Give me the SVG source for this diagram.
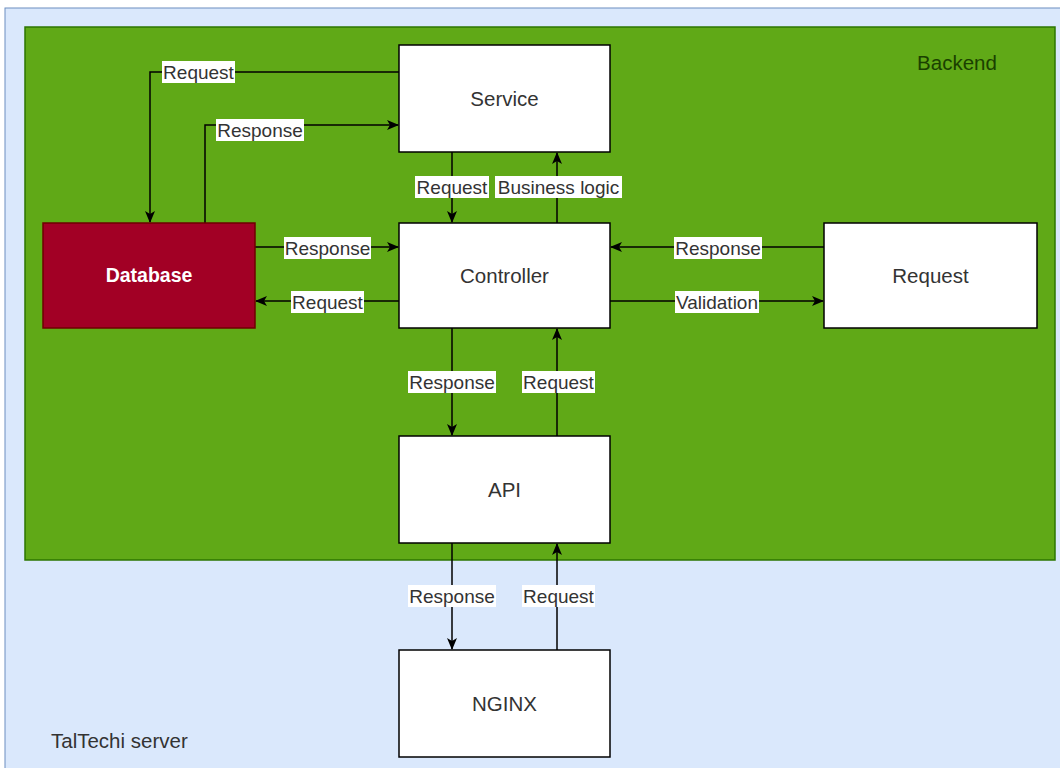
<svg xmlns="http://www.w3.org/2000/svg" width="1060" height="768" viewBox="0 0 1060 768">
<defs>
<marker id="a" viewBox="0 0 12 12" refX="11" refY="6" markerWidth="12" markerHeight="12" markerUnits="userSpaceOnUse" orient="auto">
<path d="M0,1 L12,6 L0,11 L3,6 Z" fill="#000"/>
</marker>
</defs>
<style>
.box{fill:#ffffff;stroke:#000;stroke-width:1.5}
.t{font-family:"Liberation Sans",Arial,sans-serif;font-size:20.5px;fill:#333;text-anchor:middle;dominant-baseline:central}
.lbl{font-family:"Liberation Sans",Arial,sans-serif;font-size:19px;fill:#333;text-anchor:middle;dominant-baseline:central}
.lb{fill:#ffffff}
.c{fill:none;stroke:#000;stroke-width:1.5;marker-end:url(#a)}
</style>
<rect width="1060" height="768" fill="#ffffff"/>
<g id="taltechi-server">
<rect x="5" y="8" width="1060" height="770" fill="#dae8fc" stroke="#6c8ebf" stroke-width="1"/>
<text x="51" y="740" class="t" style="text-anchor:start">TalTechi server</text>
</g>
<g id="backend">
<rect x="25" y="27" width="1030" height="533" fill="#60a917" stroke="#2d7600" stroke-width="1.5"/>
<text x="957" y="62" class="t" style="fill:#1a4000">Backend</text>
</g>
<g id="connectors">
<path class="c" d="M399,72 L150,72 L150,222"/>
<path class="c" d="M205,223 L205,125 L398,125"/>
<path class="c" d="M452,152 L452,222"/>
<path class="c" d="M557,223 L557,153"/>
<path class="c" d="M255,247 L398,247"/>
<path class="c" d="M399,301 L256,301"/>
<path class="c" d="M824,247 L611,247"/>
<path class="c" d="M610,301 L823,301"/>
<path class="c" d="M452,328 L452,435"/>
<path class="c" d="M557,436 L557,329"/>
<path class="c" d="M452,543 L452,649"/>
<path class="c" d="M557,650 L557,544"/>
<g id="labels">
<rect class="lb" x="162" y="61" width="73" height="22"/><text class="lbl" x="198.5" y="72">Request</text>
<rect class="lb" x="216" y="119" width="88" height="22"/><text class="lbl" x="260" y="130">Response</text>
<rect class="lb" x="415" y="176" width="74" height="22"/><text class="lbl" x="452" y="187">Request</text>
<rect class="lb" x="495" y="176" width="127" height="22"/><text class="lbl" x="558.5" y="187">Business logic</text>
<rect class="lb" x="284" y="237" width="87" height="22"/><text class="lbl" x="327.5" y="248">Response</text>
<rect class="lb" x="291" y="291" width="73" height="22"/><text class="lbl" x="327.5" y="302">Request</text>
<rect class="lb" x="674" y="237" width="88" height="22"/><text class="lbl" x="718" y="248">Response</text>
<rect class="lb" x="675" y="291" width="84" height="22"/><text class="lbl" x="717" y="302">Validation</text>
<rect class="lb" x="408" y="371" width="88" height="22"/><text class="lbl" x="452" y="382">Response</text>
<rect class="lb" x="522" y="371" width="73" height="22"/><text class="lbl" x="558.5" y="382">Request</text>
<rect class="lb" x="408" y="585" width="88" height="22"/><text class="lbl" x="452" y="596">Response</text>
<rect class="lb" x="522" y="585" width="73" height="22"/><text class="lbl" x="558.5" y="596">Request</text>
</g>
</g>
<g id="service"><rect class="box" x="399" y="45" width="211" height="107"/><text class="t" x="504.5" y="98">Service</text></g>
<g id="controller"><rect class="box" x="399" y="223" width="211" height="105"/><text class="t" x="504.5" y="275">Controller</text></g>
<g id="database"><rect x="43" y="223" width="212" height="105" fill="#a20025" stroke="#6f0000" stroke-width="1.5"/><text class="t" x="149" y="275" style="fill:#fff;font-weight:bold;font-size:19.5px">Database</text></g>
<g id="request"><rect class="box" x="824" y="223" width="213" height="105"/><text class="t" x="930.5" y="275">Request</text></g>
<g id="api"><rect class="box" x="399" y="436" width="211" height="107"/><text class="t" x="504.5" y="489">API</text></g>
<g id="nginx"><rect class="box" x="399" y="650" width="211" height="107"/><text class="t" x="504.5" y="703">NGINX</text></g>
</svg>
